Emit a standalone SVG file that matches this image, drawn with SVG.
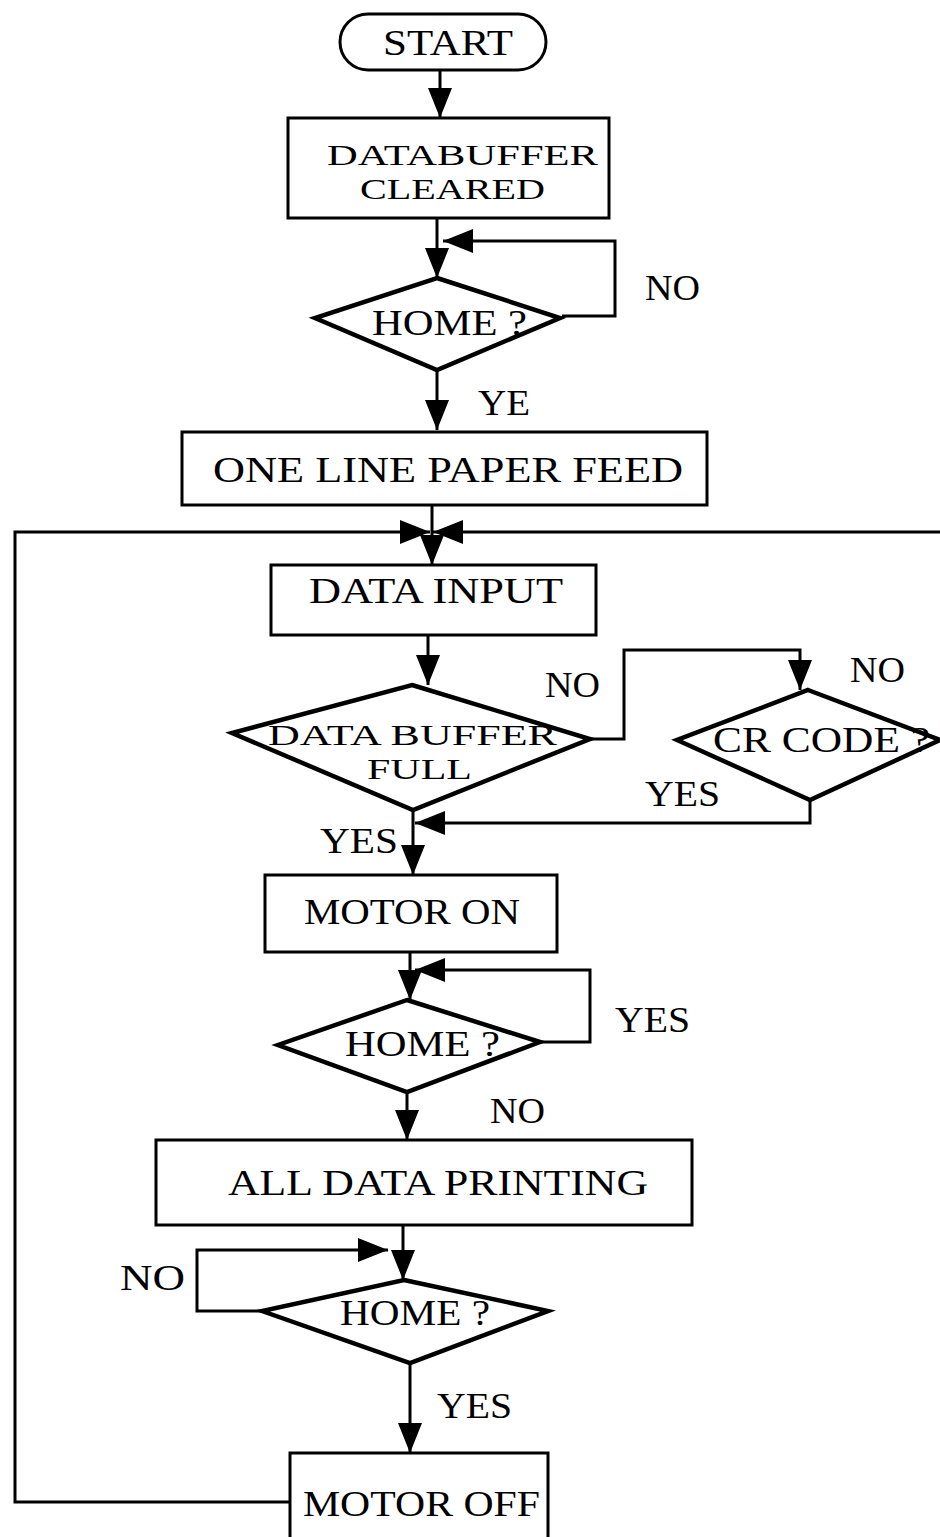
<svg xmlns="http://www.w3.org/2000/svg" width="940" height="1537" viewBox="0 0 940 1537">
<style>
.box{fill:#fff;stroke:#000;stroke-width:3}
.dia{fill:#fff;stroke:#000;stroke-width:4.5;stroke-linejoin:miter}
.con{fill:none;stroke:#000;stroke-width:3}
text{font-family:"Liberation Serif","DejaVu Serif",serif;font-size:36px;fill:#000}
.two{font-size:29px}
</style>
<defs>
<marker id="ah" markerUnits="userSpaceOnUse" markerWidth="32" markerHeight="26" refX="30" refY="12" orient="auto">
<path d="M0,0 L30,12 L0,24 z" fill="#000"/>
</marker>
</defs>
<rect width="940" height="1537" fill="#fff"/>
<g id="connectors">
<path class="con" d="M440,70 V118" marker-end="url(#ah)"/>
<path class="con" d="M437,218 V278" marker-end="url(#ah)"/>
<path class="con" d="M562,316 H615 V241 H443" marker-end="url(#ah)"/>
<path class="con" d="M437,370 V430" marker-end="url(#ah)"/>
<path class="con" d="M432,505 V565" marker-end="url(#ah)"/>
<path class="con" d="M290,1502 H15 V532 H430" marker-end="url(#ah)"/>
<path class="con" d="M940,532 H433" marker-end="url(#ah)"/>
<path class="con" d="M428,635 V685" marker-end="url(#ah)"/>
<path class="con" d="M590,739 H624 V650 H800 V690" marker-end="url(#ah)"/>
<path class="con" d="M810,800 V823 H415" marker-end="url(#ah)"/>
<path class="con" d="M413,810 V875" marker-end="url(#ah)"/>
<path class="con" d="M410,952 V1000" marker-end="url(#ah)"/>
<path class="con" d="M540,1042 H590 V970 H415" marker-end="url(#ah)"/>
<path class="con" d="M407,1092 V1140" marker-end="url(#ah)"/>
<path class="con" d="M403,1225 V1280" marker-end="url(#ah)"/>
<path class="con" d="M262,1311 H197 V1250 H388" marker-end="url(#ah)"/>
<path class="con" d="M410,1363 V1453" marker-end="url(#ah)"/>
</g>
<g id="start">
<rect class="box" x="340" y="14" width="206" height="56" rx="28" ry="28"/>
<text x="383" y="55" textLength="130" lengthAdjust="spacingAndGlyphs">START</text>
</g>
<g id="clear">
<rect class="box" x="288" y="118" width="321" height="100"/>
<text class="two" x="327" y="165" textLength="271" lengthAdjust="spacingAndGlyphs">DATABUFFER</text>
<text class="two" x="360" y="199" textLength="185" lengthAdjust="spacingAndGlyphs">CLEARED</text>
</g>
<g id="home1">
<polygon class="dia" points="437,278 560,318 437,370 315,318"/>
<text x="372" y="335" textLength="155" lengthAdjust="spacingAndGlyphs">HOME ?</text>
</g>
<g id="labels1">
<text x="645" y="300" textLength="55" lengthAdjust="spacingAndGlyphs">NO</text>
<text x="478" y="415" textLength="52" lengthAdjust="spacingAndGlyphs">YE</text>
</g>
<g id="feed">
<rect class="box" x="182" y="432" width="525" height="73"/>
<text x="213" y="482" textLength="470" lengthAdjust="spacingAndGlyphs">ONE LINE PAPER FEED</text>
</g>
<g id="input">
<rect class="box" x="271" y="565" width="325" height="70"/>
<text x="309" y="603" textLength="254" lengthAdjust="spacingAndGlyphs">DATA INPUT</text>
</g>
<g id="full">
<polygon class="dia" points="412,685 590,739 413,810 232,733"/>
<text class="two" x="268" y="745" textLength="289" lengthAdjust="spacingAndGlyphs">DATA BUFFER</text>
<text class="two" x="367" y="779" textLength="105" lengthAdjust="spacingAndGlyphs">FULL</text>
<text x="545" y="697" textLength="55" lengthAdjust="spacingAndGlyphs">NO</text>
<text x="320" y="853" textLength="78" lengthAdjust="spacingAndGlyphs">YES</text>
</g>
<g id="cr">
<polygon class="dia" points="808,690 940,740 810,800 677,740"/>
<text x="713" y="752" textLength="217" lengthAdjust="spacingAndGlyphs">CR CODE ?</text>
<text x="850" y="682" textLength="55" lengthAdjust="spacingAndGlyphs">NO</text>
<text x="645" y="806" textLength="75" lengthAdjust="spacingAndGlyphs">YES</text>
</g>
<g id="motoron">
<rect class="box" x="265" y="875" width="292" height="77"/>
<text x="304" y="924" textLength="216" lengthAdjust="spacingAndGlyphs">MOTOR ON</text>
</g>
<g id="home2">
<polygon class="dia" points="407,1000 540,1042 407,1092 278,1045"/>
<text x="345" y="1056" textLength="155" lengthAdjust="spacingAndGlyphs">HOME ?</text>
<text x="615" y="1032" textLength="75" lengthAdjust="spacingAndGlyphs">YES</text>
<text x="490" y="1123" textLength="55" lengthAdjust="spacingAndGlyphs">NO</text>
</g>
<g id="print">
<rect class="box" x="156" y="1140" width="536" height="85"/>
<text x="228" y="1195" textLength="420" lengthAdjust="spacingAndGlyphs">ALL DATA PRINTING</text>
</g>
<g id="home3">
<polygon class="dia" points="404,1280 548,1311 410,1363 262,1311"/>
<text x="340" y="1325" textLength="150" lengthAdjust="spacingAndGlyphs">HOME ?</text>
<text x="120" y="1290" textLength="65" lengthAdjust="spacingAndGlyphs">NO</text>
<text x="437" y="1418" textLength="75" lengthAdjust="spacingAndGlyphs">YES</text>
</g>
<g id="motoroff">
<rect class="box" x="290" y="1453" width="258" height="100"/>
<text x="303" y="1516" textLength="237" lengthAdjust="spacingAndGlyphs">MOTOR OFF</text>
</g>
</svg>
